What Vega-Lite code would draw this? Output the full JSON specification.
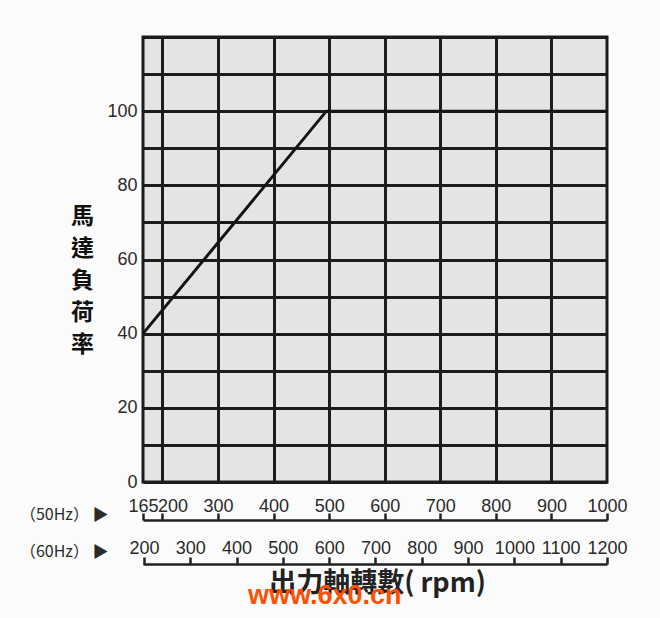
{
  "$schema": "https://vega.github.io/schema/vega-lite/v6.json",
  "width": 464,
  "height": 445,
  "autosize": {"type": "none"},
  "padding": {"left": 143, "top": 37, "right": 53, "bottom": 136},
  "background": "#fbfbfb",
  "title": {
    "text": "www.6x0.cn",
    "orient": "top",
    "frame": "group",
    "anchor": "start",
    "baseline": "alphabetic",
    "offset": 0,
    "dx": 105,
    "dy": 594,
    "zindex": 2,
    "color": "#ff5000",
    "font": "Liberation Sans",
    "fontSize": 27,
    "fontWeight": "bold"
  },
  "config": {
    "view": {"fill": "#e4e4e4", "stroke": "#1c1c1c", "strokeWidth": 3},
    "axis": {"labelFont": "Liberation Sans", "labelColor": "#2a2a2a", "labelFontSize": 18}
  },
  "data": {
    "values": [
      {"rpm50": 165, "rpm60": 198, "load": 40},
      {"rpm50": 495, "rpm60": 594, "load": 100},
      {"rpm50": 1000, "rpm60": 1200, "load": 100}
    ]
  },
  "layer": [
    {
      "mark": {"type": "line", "color": "#141414", "strokeWidth": 3},
      "encoding": {
        "x": {
          "field": "rpm50",
          "type": "quantitative",
          "scale": {"domain": [165, 1000], "nice": false, "zero": false},
          "axis": {
            "orient": "bottom",
            "values": [200, 300, 400, 500, 600, 700, 800, 900],
            "grid": true,
            "gridColor": "#1c1c1c",
            "gridWidth": 3,
            "gridOpacity": 1,
            "labels": false,
            "ticks": false,
            "domain": false,
            "title": "出力軸轉數( rpm)",
            "titleFont": "Noto Sans CJK TC",
            "titleFontSize": 27,
            "titleFontWeight": "bold",
            "titleColor": "#222222",
            "titleAngle": 0,
            "titleX": 234,
            "titleY": 88,
            "titleAlign": "center",
            "titleBaseline": "top"
          }
        },
        "y": {
          "field": "load",
          "type": "quantitative",
          "scale": {"domain": [0, 120], "nice": false},
          "axis": {
            "values": [0, 10, 20, 30, 40, 50, 60, 70, 80, 90, 100, 110, 120],
            "labelExpr": "datum.value % 20 == 0 && datum.value < 120 ? datum.label : ''",
            "grid": true,
            "gridColor": "#1c1c1c",
            "gridWidth": 3,
            "gridOpacity": 1,
            "domain": false,
            "ticks": false,
            "tickSize": 0,
            "labelPadding": 6,
            "title": ["馬", "達", "負", "荷", "率"],
            "titleFont": "Noto Sans CJK TC",
            "titleFontSize": 23,
            "titleFontWeight": "bold",
            "titleColor": "#111111",
            "titleLineHeight": 32,
            "titleAngle": 0,
            "titleX": -61,
            "titleY": 168,
            "titleAlign": "center",
            "titleBaseline": "top"
          }
        }
      }
    },
    {
      "mark": {"type": "point", "opacity": 0},
      "encoding": {
        "x": {
          "field": "rpm50",
          "type": "quantitative",
          "scale": {"domain": [165, 1000], "nice": false, "zero": false},
          "axis": {
            "orient": "bottom",
            "offset": 38,
            "values": [165, 200, 300, 400, 500, 600, 700, 800, 900, 1000],
            "format": "d",
            "grid": false,
            "domain": true,
            "domainColor": "#222222",
            "domainWidth": 2.5,
            "ticks": true,
            "tickColor": "#222222",
            "tickWidth": 2.5,
            "tickSize": -7,
            "labelBaseline": "bottom",
            "labelPadding": 2,
            "labelOverlap": false,
            "labelFlush": false,
            "labelOffset": {"condition": {"test": "datum.value == 200", "value": 10}, "value": 0},
            "title": "（50Hz） ▶",
            "titleFont": "Noto Sans CJK TC",
            "titleFontSize": 16,
            "titleFontWeight": "normal",
            "titleColor": "#2a2a2a",
            "titleAngle": 0,
            "titleX": -35,
            "titleY": -6,
            "titleAlign": "right",
            "titleBaseline": "middle"
          }
        }
      }
    },
    {
      "mark": {"type": "point", "opacity": 0},
      "encoding": {
        "x": {
          "field": "rpm60",
          "type": "quantitative",
          "scale": {"domain": [198, 1200], "nice": false, "zero": false},
          "axis": {
            "orient": "bottom",
            "offset": 82,
            "values": [200, 300, 400, 500, 600, 700, 800, 900, 1000, 1100, 1200],
            "format": "d",
            "grid": false,
            "domain": true,
            "domainColor": "#222222",
            "domainWidth": 2.5,
            "ticks": true,
            "tickColor": "#222222",
            "tickWidth": 2.5,
            "tickSize": -7,
            "labelBaseline": "bottom",
            "labelPadding": 0,
            "labelOverlap": false,
            "labelFlush": false,
            "title": "（60Hz） ▶",
            "titleFont": "Noto Sans CJK TC",
            "titleFontSize": 16,
            "titleFontWeight": "normal",
            "titleColor": "#2a2a2a",
            "titleAngle": 0,
            "titleX": -35,
            "titleY": -13,
            "titleAlign": "right",
            "titleBaseline": "middle"
          }
        }
      }
    }
  ],
  "resolve": {"scale": {"x": "independent"}, "axis": {"x": "independent"}}
}
